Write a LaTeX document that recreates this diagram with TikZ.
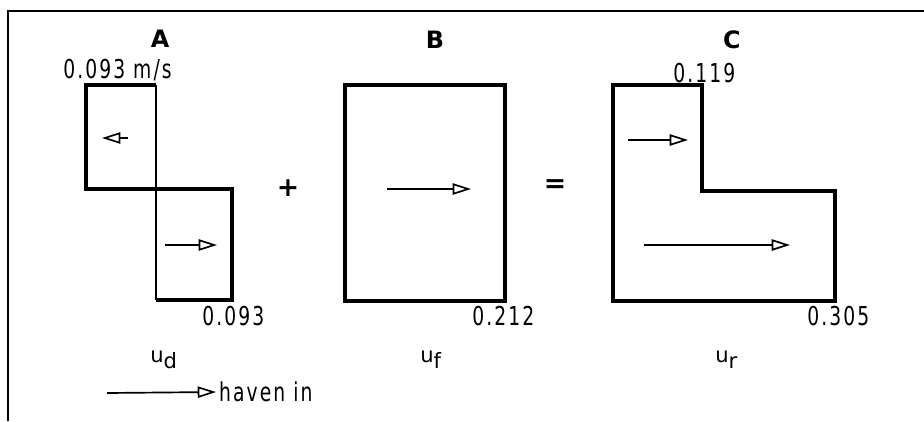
\documentclass[tikz,border=0pt]{standalone}
\usepackage{fontspec}
\setmainfont{DejaVu Sans}
\newfontfamily\valfont{DejaVu Sans}[FakeStretch=0.72, LetterSpace=8]
\usetikzlibrary{arrows.meta}
\newcommand{\lowsub}[1]{\raisebox{-4.3pt}{\fontsize{15}{17}\selectfont #1}}

\begin{document}
\begin{tikzpicture}[x=0.025cm, y=-0.025cm,
  outline/.style={line width=2.3pt, line join=miter},
  divide/.style={line width=0.8pt},
  vel/.style={-{Triangle[open, length=13pt, width=8pt]}, line width=1.2pt},
  val/.style={font=\valfont\fontsize{18.5}{20}\selectfont, inner sep=0pt, anchor=base west},
  sym/.style={font=\fontsize{15}{17}\selectfont, inner sep=0pt, anchor=base west},
  head/.style={font=\fontsize{17}{19}\selectfont\bfseries, inner sep=0pt, anchor=base},
  sign/.style={font=\fontsize{19}{21}\selectfont\bfseries, inner sep=0pt}]
\useasboundingbox (0,0) rectangle (924,421);
% frame (only top and left edges show)
\draw[line width=1.5pt] (8,421) -- (8,11) -- (924,11);

% A: drift component
\node[head] (labA) at (160,47) {A};
\draw[outline] (156,85) -- (86,85) -- (86,189) -- (232,189) -- (232,300) -- (156,300);
\draw[divide] (156,85) -- (156,300);
\draw[vel] (128,138) -- (102,138);
\draw[vel] (165,245) -- (217,245);
\node[val] (topA) at (63,78) {0.093 m/s};
\node[val] (botA) at (202,325) {0.093};
\node[sym] (ud) at (150,362) {u\lowsub{d}};

\node[sign] (plus) at (288,188) {+};

% B: fresh water component
\node[head] (labB) at (435,48) {B};
\draw[outline] (345,85) rectangle (505,301);
\draw[vel] (387,189) -- (471,189);
\node[val] (botB) at (472,325) {0.212};
\node[sym] (uf) at (420,362) {u\lowsub{f}};

\node[sign] (equals) at (555,186) {=};

% C: resulting velocity
\node[head] (labC) at (732,48) {C};
\draw[outline] (613,85) -- (702,85) -- (702,191) -- (835,191) -- (835,301) -- (613,301) -- cycle;
\draw[vel] (628,140) -- (688,140);
\draw[vel] (644,245) -- (790,245);
\node[val] (topC) at (673,82) {0.119};
\node[val] (botC) at (807,325) {0.305};
\node[sym] (ur) at (715,362) {u\lowsub{r}};

% legend
\node[val, inner sep=2pt, anchor=west] (haven) at (216,392) {haven in};
\draw[vel] (107,393) -- (haven.west);
\end{tikzpicture}
\end{document}
